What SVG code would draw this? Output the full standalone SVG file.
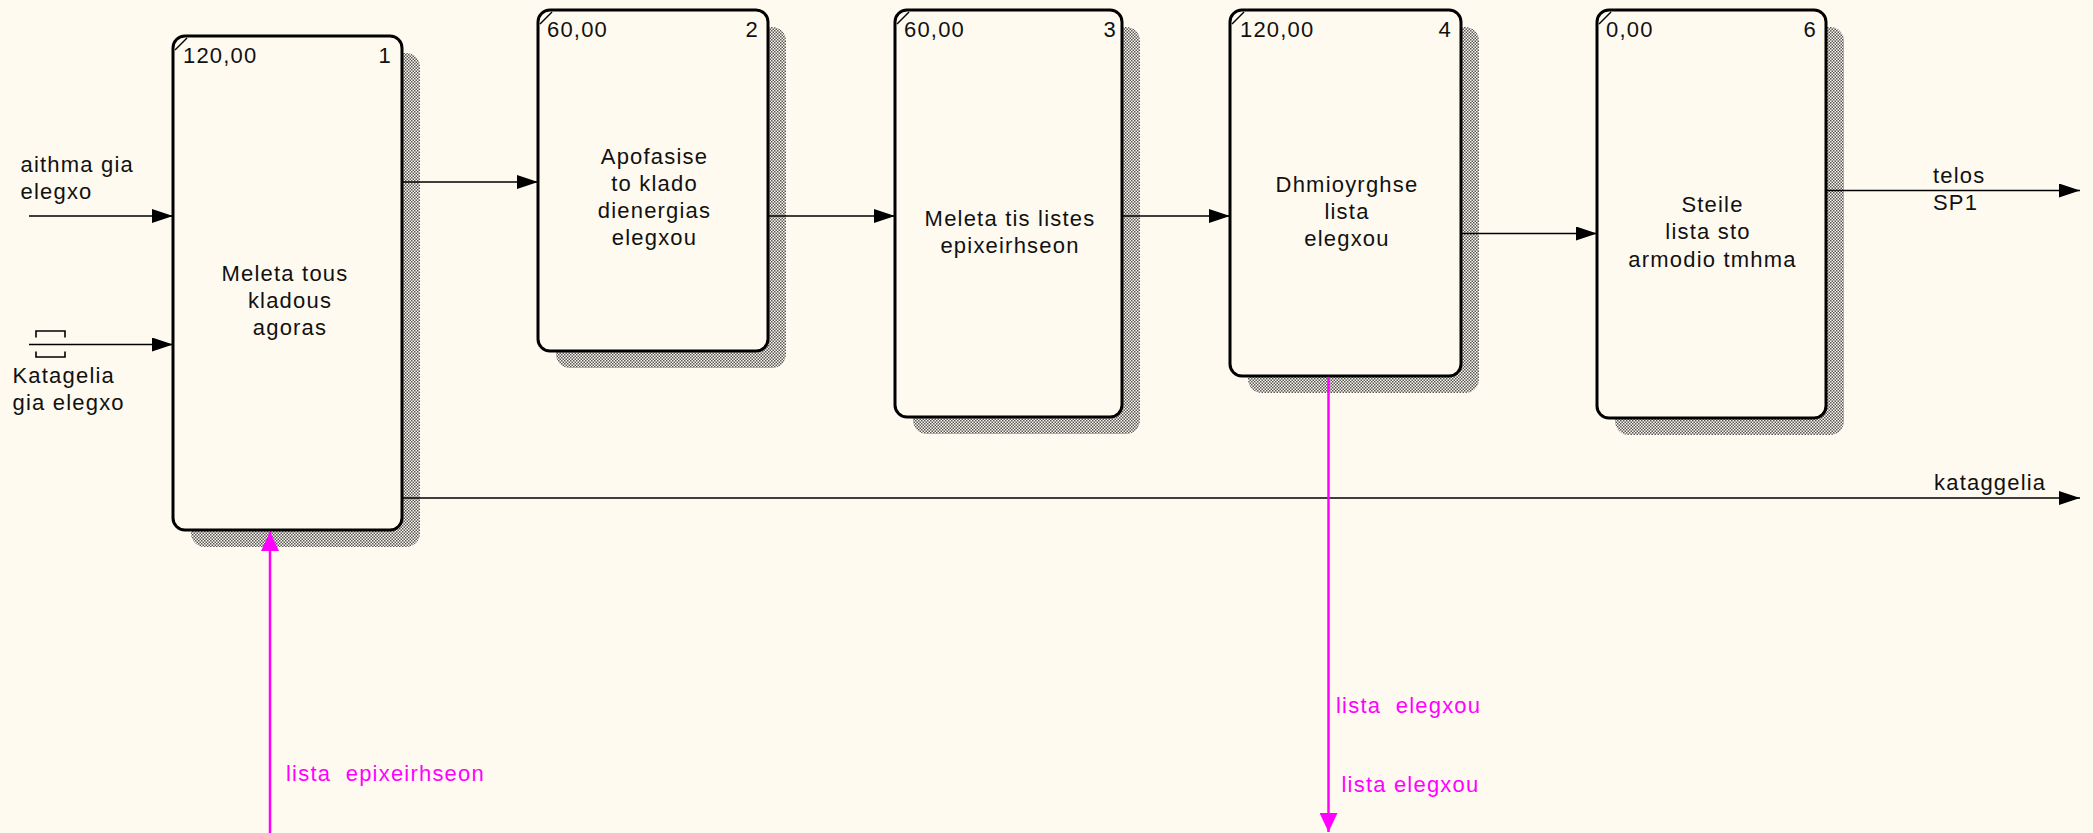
<svg xmlns="http://www.w3.org/2000/svg" width="2093" height="833" viewBox="0 0 2093 833">
<defs>
<style>
.t{font-family:"Liberation Sans",Arial,sans-serif;font-size:22px;letter-spacing:1.2px;fill:#111}
.mid{text-anchor:middle}
.end{text-anchor:end}
.m{fill:#FF00FF}
.box{fill:#FFFAF0;stroke:#000;stroke-width:3}
.sh{fill:url(#hatch);stroke:none}
.corner{stroke:#000;stroke-width:1.5;fill:none}
.c{stroke:#000;stroke-width:1.6;fill:none}
.ca{stroke:#000;stroke-width:1.6;fill:none;marker-end:url(#ab)}
.cm{stroke:#FF00FF;stroke-width:2.5;fill:none;marker-end:url(#am)}
</style>
<pattern id="hatch" width="3" height="3" patternUnits="userSpaceOnUse">
<rect width="3" height="3" fill="#FFFAF0"/>
<rect width="1.5" height="1.5" fill="#555"/>
<rect x="1.5" y="1.5" width="1.5" height="1.5" fill="#555"/>
</pattern>
<marker id="ab" markerUnits="userSpaceOnUse" markerWidth="21" markerHeight="14" refX="21" refY="7" orient="auto">
<path d="M0,0 L21,7 L0,14 z" fill="#000"/>
</marker>
<marker id="am" markerUnits="userSpaceOnUse" markerWidth="19" markerHeight="18" refX="19" refY="9" orient="auto">
<path d="M0,0 L19,9 L0,18 z" fill="#FF00FF"/>
</marker>
</defs>
<rect width="2093" height="833" fill="#FFFAF0"/>

<g id="node1">
<rect class="sh" x="191" y="53" width="229" height="494" rx="14"/>
<rect class="box" x="173" y="36" width="229" height="494" rx="12"/>
<path class="corner" d="M175,50 L187,38"/>
<text class="t" x="183" y="63">120,00</text>
<text class="t end" x="392" y="63">1</text>
<text class="t mid" x="285" y="280.5">Meleta tous</text>
<text class="t mid" x="290" y="307.5">kladous</text>
<text class="t mid" x="290" y="334.5">agoras</text>
</g>

<g id="node2">
<rect class="sh" x="556" y="27" width="230" height="341" rx="14"/>
<rect class="box" x="538" y="10" width="230" height="341" rx="12"/>
<path class="corner" d="M540,24 L552,12"/>
<text class="t" x="547" y="37">60,00</text>
<text class="t end" x="759" y="37">2</text>
<text class="t mid" x="654.5" y="164">Apofasise</text>
<text class="t mid" x="654.5" y="191">to klado</text>
<text class="t mid" x="654.5" y="218">dienergias</text>
<text class="t mid" x="654.5" y="245">elegxou</text>
</g>

<g id="node3">
<rect class="sh" x="913" y="27" width="227" height="407" rx="14"/>
<rect class="box" x="895" y="10" width="227" height="407" rx="12"/>
<path class="corner" d="M897,24 L909,12"/>
<text class="t" x="904" y="37">60,00</text>
<text class="t end" x="1117" y="37">3</text>
<text class="t mid" x="1010" y="225.5">Meleta tis listes</text>
<text class="t mid" x="1010" y="253">epixeirhseon</text>
</g>

<g id="node4">
<rect class="sh" x="1248" y="27" width="231" height="366" rx="14"/>
<rect class="box" x="1230" y="10" width="231" height="366" rx="12"/>
<path class="corner" d="M1232,24 L1244,12"/>
<text class="t" x="1240" y="37">120,00</text>
<text class="t end" x="1452" y="37">4</text>
<text class="t mid" x="1347" y="191.5">Dhmioyrghse</text>
<text class="t mid" x="1347" y="218.5">lista</text>
<text class="t mid" x="1347" y="245.5">elegxou</text>
</g>

<g id="node6">
<rect class="sh" x="1615" y="27" width="229" height="408" rx="14"/>
<rect class="box" x="1597" y="10" width="229" height="408" rx="12"/>
<path class="corner" d="M1599,24 L1611,12"/>
<text class="t" x="1606" y="37">0,00</text>
<text class="t end" x="1817" y="37">6</text>
<text class="t mid" x="1712.5" y="211.5">Steile</text>
<text class="t mid" x="1708" y="239">lista sto</text>
<text class="t mid" x="1712.5" y="266.5">armodio tmhma</text>
</g>

<g id="connectors">
<line class="ca" x1="29" y1="216" x2="173" y2="216"/>
<text class="t" x="20.5" y="171.5">aithma gia</text>
<text class="t" x="20.5" y="198.5">elegxo</text>

<line class="ca" x1="29" y1="344.5" x2="173" y2="344.5"/>
<path class="c" stroke-width="2" d="M36,337.5 V331 H65 V337.5"/>
<path class="c" stroke-width="2" d="M36,351.5 V357 H65 V351.5"/>
<text class="t" x="12.5" y="383">Katagelia</text>
<text class="t" x="12.5" y="410">gia elegxo</text>

<line class="ca" x1="402" y1="182" x2="538" y2="182"/>
<line class="ca" x1="768" y1="216" x2="895" y2="216"/>
<line class="ca" x1="1122" y1="216" x2="1230" y2="216"/>
<line class="ca" x1="1461" y1="233.5" x2="1597" y2="233.5"/>

<line class="ca" x1="1826" y1="190.5" x2="2080" y2="190.5"/>
<text class="t" x="1933" y="182.5">telos</text>
<text class="t" x="1933" y="210">SP1</text>

<line class="ca" x1="402" y1="498" x2="2080" y2="498"/>
<text class="t" x="1934" y="490">kataggelia</text>

<line class="cm" x1="270" y1="833" x2="270" y2="532"/>
<text class="t m" x="286" y="781" xml:space="preserve">lista  epixeirhseon</text>

<line class="cm" x1="1328.5" y1="377" x2="1328.5" y2="832"/>
<text class="t m" x="1336" y="712.5" xml:space="preserve">lista  elegxou</text>
<text class="t m" x="1341.5" y="791.5">lista elegxou</text>
</g>
</svg>
